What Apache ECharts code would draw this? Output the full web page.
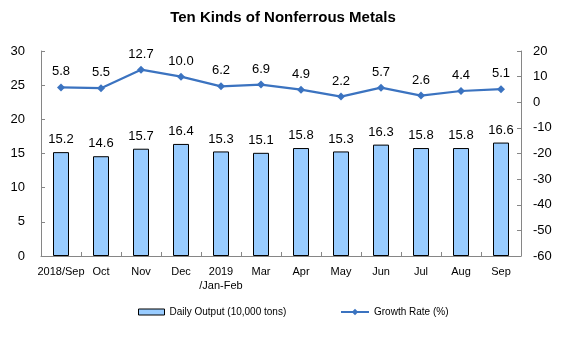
<!DOCTYPE html>
<html><head><meta charset="utf-8">
<script src="https://cdn.jsdelivr.net/npm/echarts@6/dist/echarts.min.js"></script>
<style>html,body{margin:0;padding:0;background:#fff}#c{width:566px;height:349px}</style>
</head><body><div id="c"></div>
<script>
const categories = ["2018/Sep","Oct","Nov","Dec","2019\n/Jan-Feb","Mar","Apr","May","Jun","Jul","Aug","Sep"];
const dailyOutput = [15.2,14.6,15.7,16.4,15.3,15.1,15.8,15.3,16.3,15.8,15.8,16.6];
const growthRate = [5.8,5.5,12.7,10.0,6.2,6.9,4.9,2.2,5.7,2.6,4.4,5.1];
const leftTicks = [0,30,5];
const rightTicks = [-60,20,10];

const font = "'Liberation Sans', Arial, sans-serif";
const axisLine = {show:true, lineStyle:{color:'#868686', width:1}};
const chart = echarts.init(document.getElementById('c'), null, {renderer:'canvas'});
chart.setOption({
  animation:false,
  textStyle:{fontFamily:font},
  title:{text:'Ten Kinds of Nonferrous Metals', left:'center', top:5,
    textStyle:{fontFamily:font, fontSize:15, fontWeight:'bold', color:'#000'}},
  grid:{left:41, right:45, top:51, bottom:93},
  legend:[
    {data:[{name:'Daily Output (10,000 tons)', icon:'rect'}], left:133, top:302, itemWidth:26, itemHeight:6, itemGap:3,
      textStyle:{fontFamily:font, fontSize:10, color:'#000'}, itemStyle:{borderColor:'#000', borderWidth:1}},
    {data:[{name:'Growth Rate (%)'}], left:335, top:302, itemWidth:28, itemHeight:8,
      textStyle:{fontFamily:font, fontSize:10, color:'#000'}}
  ],
  xAxis:{type:'category', data:categories, boundaryGap:true,
    axisLine:axisLine, axisTick:{show:true, inside:true, length:4, lineStyle:{color:'#868686'}},
    axisLabel:{color:'#000', fontSize:11, fontFamily:font, interval:0, margin:9, lineHeight:14}},
  yAxis:[
    {type:'value', min:leftTicks[0], max:leftTicks[1], interval:leftTicks[2], position:'left',
      axisLine:axisLine, axisTick:{show:true, inside:true, length:4, lineStyle:{color:'#868686'}},
      splitLine:{show:false}, axisLabel:{color:'#000', fontSize:13, fontFamily:font, margin:16}},
    {type:'value', min:rightTicks[0], max:rightTicks[1], interval:rightTicks[2], position:'right',
      axisLine:axisLine, axisTick:{show:true, inside:true, length:4, lineStyle:{color:'#868686'}},
      splitLine:{show:false}, axisLabel:{color:'#000', fontSize:13, fontFamily:font, margin:12}}
  ],
  series:[
    {name:'Daily Output (10,000 tons)', type:'bar', data:dailyOutput, barWidth:16,
      itemStyle:{color:'#99ccff', borderColor:'#000', borderWidth:1},
      label:{show:true, position:'top', distance:6, color:'#000', fontSize:13, fontFamily:font,
        formatter:p=>p.value.toFixed(1)}},
    {name:'Growth Rate (%)', type:'line', yAxisIndex:1, data:growthRate,
      symbol:'diamond', symbolSize:8, lineStyle:{color:'#3b73c0', width:2.2},
      itemStyle:{color:'#3b73c0'},
      label:{show:true, position:'top', distance:5, color:'#000', fontSize:13, fontFamily:font,
        formatter:p=>p.value.toFixed(1)}}
  ]
});
</script></body></html>
